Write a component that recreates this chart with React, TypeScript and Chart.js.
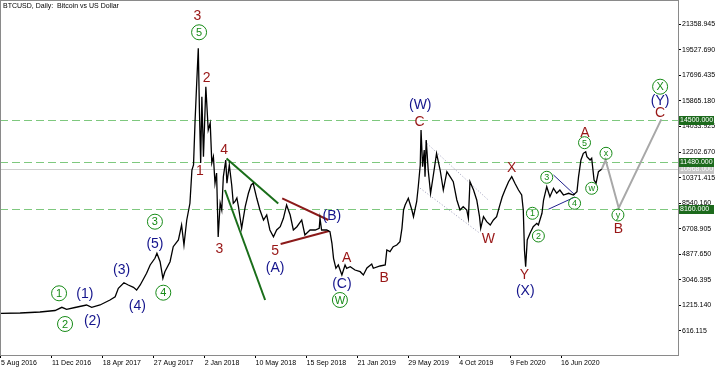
import { useEffect, useRef } from "react";
import { Chart, registerables } from "chart.js";
Chart.register(...registerables);

// Days since 5 Aug 2016, and BTCUSD price
const priceDay = [0,48,98,136,153,165,186,215,228,249,274,287,295,309,320,333,341,350,366,375,387,392,400,407,412,425,433,446,454,460,467,475,480,484,488,492,496,499,502,505,509,515,521,526,530,534,538,542,546,551,555,559,565,568,574,580,584,588,593,597,605,614,622,629,634,643,651,660,668,676,685,693,702,710,718,727,735,744,756,764,777,790,800,802,806,819,827,832,836,842,848,857,865,869,878,890,903,911,920,932,936,953,966,970,978,986,995,1003,1008,1012,1016,1024,1033,1037,1045,1049,1054,1056,1060,1064,1066,1069,1074,1080,1087,1095,1104,1112,1121,1129,1137,1146,1154,1162,1171,1175,1179,1188,1196,1203,1206,1213,1221,1230,1238,1246,1253,1260,1267,1276,1284,1292,1301,1309,1313,1316,1319,1323,1330,1338,1347,1351,1360,1364,1372,1380,1389,1397,1405,1414,1427,1439,1448,1452,1458,1464,1470,1473,1481,1485,1491,1496,1502,1510];
const priceUsd = [652,674,745,853,1082,939,1068,1247,1082,1247,1605,1841,2443,2845,2680,2515,2321,2680,3518,4113,4593,4951,4349,3160,3633,4349,5424,5904,6979,5546,7337,8534,10919,11278,14502,17132,19639,15004,11421,16171,11873,16888,13785,14287,11421,11873,9967,10705,6119,8555,8053,10439,11636,9967,11278,9845,8534,8648,8913,8290,6742,8290,9250,9845,9967,8892,8053,7337,7695,6620,6140,6620,6857,7459,8412,7695,6620,6857,7337,6262,6620,6620,6742,7459,6620,6620,6499,5668,4593,3876,4113,3396,4113,3876,3991,3754,3633,3396,3898,4184,3876,4041,4113,5187,5066,5424,5546,5782,6742,8053,8412,8892,8053,7573,8648,9723,11278,13785,11156,12352,10439,13069,10919,9250,10561,12116,10919,9486,10798,10439,10081,8770,8053,8290,8053,7459,10081,9486,8770,7573,6742,7573,7215,6979,7337,7573,8290,8985,9486,10081,10439,9967,9486,9128,8053,5187,3991,5904,6384,6857,7100,6979,7817,8770,9723,9007,9608,9250,9486,9128,9250,9128,9365,10439,11636,12116,12231,11873,11636,11758,10203,9967,10798,10968];

const xTickDays = [0,128,256,384,512,640,768,896,1024,1152,1280,1408];
const xTickLabels = ["5 Aug 2016","11 Dec 2016","18 Apr 2017","27 Aug 2017","2 Jan 2018","10 May 2018","15 Sep 2018","21 Jan 2019","29 May 2019","4 Oct 2019","9 Feb 2020","16 Jun 2020"];
const yTickValues = [21358.945,19527.69,17696.435,15865.18,14033.925,12202.67,10371.415,8540.16,6708.905,4877.65,3046.395,1215.14,-616.115];
const yTickLabels = ["21358.945","19527.690","17696.435","15865.180","14033.925","12202.670","10371.415","8540.160","6708.905","4877.650","3046.395","1215.140","616.115"];

const levelValues = [14500, 11480, 8160];
const levelLabels = ["14500.000", "11480.000", "8160.000"];
const lastPrice = 10968;
const lastPriceLabel = "10968.000";
const chartTitle = "BTCUSD, Daily:  Bitcoin vs US Dollar";

// Elliott wave labels: text, day, price, kind (r = red, n = navy, big / small = circled)
const waveText = ["1","(1)","2","(2)","(3)","(4)","(5)","3","4","3","5","2","1","3","4","5","(A)","(B)","A","(C)","W","B","(W)","C","W","X","Y","(X)","1","2","3","4","A","5","w","x","y","B","X","(Y)","C"];
const waveDay = [146,211,161,230,303,343,387,387,408,494,498,517,500,549,561,689,689,832,869,857,852,963,1054,1052,1225,1284,1316,1318,1336,1351,1372,1442,1468,1467,1485,1521,1551,1552,1657,1657,1657];
const waveUsd = [2085,2085,-115,172,3826,1247,5668,7215,2128,22025,20786,17561,10919,5309,12403,5187,3991,7695,4708,2802,1605,3275,15648,14452,6026,11113,3468,2321,7817,6191,10397,8534,13664,12876,9608,12116,7695,6742,16888,15935,15054];
const waveKind = ["big","n","big","n","n","n","n","big","big","r","big","r","r","r","r","r","n","n","r","n","big","r","n","r","r","r","r","n","small","small","small","small","r","small","small","small","small","r","big","n","r"];

// Trend lines: [day0, day1], [usd0, usd1]
const greenUpperDay = [567, 697];   const greenUpperUsd = [11743, 8519];
const greenLowerDay = [563, 664];   const greenLowerUsd = [9486, 1605];
const redUpperDay = [707, 823];     const redUpperUsd = [8892, 7337];
const redLowerDay = [703, 825];     const redLowerUsd = [5617, 6549];
const channelUpperDay = [1066, 1225]; const channelUpperUsd = [12947, 8770];
const channelLowerDay = [1054, 1204]; const channelLowerUsd = [9608, 6384];
const triUpperDay = [1389, 1443];   const triUpperUsd = [10561, 9128];
const triLowerDay = [1376, 1443];   const triLowerUsd = [8104, 8985];
const projDay = [1510, 1520, 1553, 1660];
const projUsd = [10968, 11636, 8200, 14550];

const FONT = '"Liberation Sans", Arial, sans-serif';
const RED = "#981616";
const NAVY = "#14148c";
const GREEN = "#168a16";

const pts = (d: number[], v: number[]) => d.map((x, i) => ({ x, y: v[i] }));
const seg = (d: number[], v: number[], color: string, width: number, dash: number[] = []) => ({
  data: pts(d, v),
  borderColor: color,
  borderWidth: width,
  borderDash: dash,
  pointRadius: 0,
  tension: 0,
  fill: false,
});

const overlay = {
  id: "overlay",
  beforeDatasetsDraw(chart: any) {
    const { ctx, chartArea: a, scales } = chart;
    const y = scales.y;
    ctx.save();
    ctx.lineWidth = 1;
    ctx.strokeStyle = "#cfcfcf";
    const yl = Math.round(y.getPixelForValue(lastPrice)) + 0.5;
    ctx.beginPath();
    ctx.moveTo(a.left, yl);
    ctx.lineTo(a.right, yl);
    ctx.stroke();
    ctx.strokeStyle = "#7ec87e";
    ctx.setLineDash([8, 4]);
    levelValues.forEach((v) => {
      const py = Math.round(y.getPixelForValue(v)) + 0.5;
      ctx.beginPath();
      ctx.moveTo(a.left, py);
      ctx.lineTo(a.right, py);
      ctx.stroke();
    });
    ctx.restore();
  },
  afterDatasetsDraw(chart: any) {
    const { ctx, scales } = chart;
    const x = scales.x, y = scales.y;
    ctx.save();
    ctx.textAlign = "center";
    ctx.textBaseline = "middle";
    waveText.forEach((t, i) => {
      const px = x.getPixelForValue(waveDay[i]);
      const py = y.getPixelForValue(waveUsd[i]);
      const k = waveKind[i];
      if (k === "r" || k === "n") {
        ctx.fillStyle = k === "r" ? RED : NAVY;
        ctx.font = `14px ${FONT}`;
        ctx.fillText(t, px, py + 1);
      } else {
        const r = k === "big" ? 7.5 : 6;
        ctx.strokeStyle = GREEN;
        ctx.lineWidth = 1;
        ctx.beginPath();
        ctx.arc(px, py, r, 0, Math.PI * 2);
        ctx.stroke();
        ctx.fillStyle = GREEN;
        ctx.font = `${k === "big" ? 11 : 9}px ${FONT}`;
        ctx.fillText(t, px, py + 0.5);
      }
    });
    ctx.restore();
  },
  afterDraw(chart: any) {
    const { ctx, chartArea: a, scales } = chart;
    const y = scales.y;
    ctx.save();
    ctx.strokeStyle = "#8a8a8a";
    ctx.lineWidth = 1;
    ctx.strokeRect(a.left + 0.5, a.top - 0.5, a.right - a.left, a.bottom - a.top + 1);
    ctx.font = `7px ${FONT}`;
    ctx.textBaseline = "middle";
    ctx.textAlign = "left";
    const box = (v: number, label: string, bg: string, fg: string) => {
      const py = Math.round(y.getPixelForValue(v));
      ctx.fillStyle = bg;
      ctx.fillRect(a.right + 1, py - 4, 35, 9);
      ctx.fillStyle = fg;
      ctx.fillText(label, a.right + 2, py + 0.5);
    };
    box(lastPrice, lastPriceLabel, "#c4c4c4", "#ffffff");
    levelValues.forEach((v, i) => box(v, levelLabels[i], "#1c6a1c", "#ffffff"));
    ctx.fillStyle = "#000";
    ctx.fillText(chartTitle, a.left + 3, a.top + 5);
    ctx.restore();
  },
};

export default function App() {
  const ref = useRef<HTMLCanvasElement>(null);
  useEffect(() => {
    document.body.style.margin = "0";
    const chart = new Chart(ref.current as HTMLCanvasElement, {
      type: "line",
      data: {
        datasets: [
          { data: pts(priceDay, priceUsd), borderColor: "#000", borderWidth: 1.3, pointRadius: 0, tension: 0, fill: false },
          seg(greenUpperDay, greenUpperUsd, "#1a6e1a", 2),
          seg(greenLowerDay, greenLowerUsd, "#1a6e1a", 2),
          seg(redUpperDay, redUpperUsd, "#8b1a1a", 2),
          seg(redLowerDay, redLowerUsd, "#8b1a1a", 2),
          seg(channelUpperDay, channelUpperUsd, "#9a9ab8", 1, [1, 2]),
          seg(channelLowerDay, channelLowerUsd, "#9a9ab8", 1, [1, 2]),
          seg(triUpperDay, triUpperUsd, "#20208c", 1),
          seg(triLowerDay, triLowerUsd, "#20208c", 1),
          seg(projDay, projUsd, "#a8a8a8", 2),
        ] as any,
      },
      options: {
        responsive: false,
        animation: false,
        devicePixelRatio: 1,
        layout: { padding: { top: 1, left: 0, right: 0, bottom: 0 } },
        plugins: { legend: { display: false }, tooltip: { enabled: false }, title: { display: false } },
        scales: {
          x: {
            type: "linear",
            min: -2.5,
            max: 1702,
            afterFit: (s: any) => { s.height = 13; s.paddingLeft = 0; s.paddingRight = 0; },
            afterBuildTicks: (s: any) => { s.ticks = xTickDays.map((v) => ({ value: v })); },
            ticks: {
              align: "start",
              padding: 1,
              maxRotation: 0,
              autoSkip: false,
              color: "#000",
              font: { size: 7, family: FONT },
              callback: (_v: any, i: number) => xTickLabels[i],
            },
            grid: { display: true, drawOnChartArea: false, drawTicks: true, tickLength: 3, color: "#000" },
            border: { display: false },
          },
          y: {
            type: "linear",
            position: "right",
            min: -2336,
            max: 23028,
            afterFit: (s: any) => { s.width = 42; s.paddingTop = 0; s.paddingBottom = 0; },
            afterBuildTicks: (s: any) => { s.ticks = yTickValues.map((v) => ({ value: v })); },
            ticks: {
              padding: 1,
              autoSkip: false,
              color: "#000",
              font: { size: 7, family: FONT },
              callback: (_v: any, i: number) => yTickLabels[i],
            },
            grid: { display: true, drawOnChartArea: false, drawTicks: true, tickLength: 3, color: "#000" },
            border: { display: false },
          },
        },
      } as any,
      plugins: [overlay],
    });
    return () => chart.destroy();
  }, []);
  return (
    <div style={{ position: "fixed", left: 0, top: 0, width: 720, height: 368, background: "#fff" }}>
      <canvas ref={ref} width={720} height={368} style={{ display: "block" }} />
    </div>
  );
}
